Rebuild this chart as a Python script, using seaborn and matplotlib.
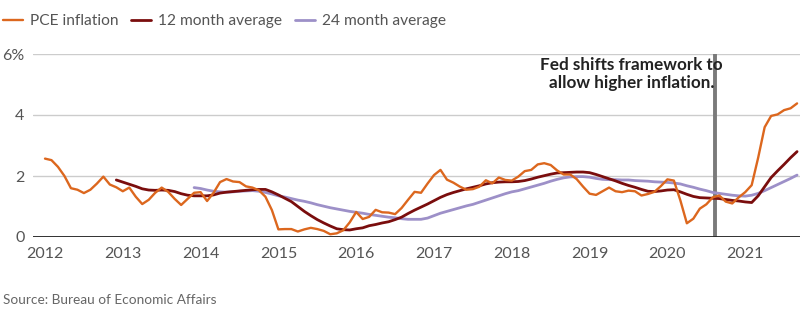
import numpy as np
import pandas as pd
import matplotlib
matplotlib.use("Agg")
import matplotlib.pyplot as plt
import seaborn as sns

# ---- data (monthly, Jan 2012 .. Sep 2021) ----
start_year = 2012
pce = [
    2.57, 2.52, 2.30, 2.00, 1.60, 1.55, 1.44, 1.55, 1.75, 1.98, 1.72, 1.63,
    1.50, 1.62, 1.32, 1.08, 1.22, 1.45, 1.62, 1.48, 1.25, 1.05, 1.25, 1.45,
    1.47, 1.18, 1.45, 1.80, 1.90, 1.82, 1.80, 1.66, 1.62, 1.53, 1.32, 0.88,
    0.25, 0.26, 0.26, 0.18, 0.25, 0.30, 0.26, 0.20, 0.09, 0.12, 0.22, 0.48,
    0.82, 0.59, 0.66, 0.89, 0.81, 0.80, 0.75, 0.95, 1.22, 1.48, 1.45, 1.75,
    2.03, 2.20, 1.88, 1.78, 1.65, 1.55, 1.57, 1.65, 1.86, 1.76, 1.95, 1.87,
    1.85, 1.98, 2.16, 2.20, 2.38, 2.42, 2.36, 2.18, 2.05, 2.05, 1.90, 1.65,
    1.42, 1.38, 1.50, 1.62, 1.50, 1.47, 1.52, 1.50, 1.36, 1.41, 1.48, 1.67,
    1.89, 1.85, 1.20, 0.45, 0.60, 0.93, 1.07, 1.30, 1.36, 1.16, 1.10, 1.30,
    1.47, 1.70, 2.60, 3.60, 3.97, 4.02, 4.16, 4.22, 4.38,
]
# 12 month average starts Dec 2012
avg12_start = 11
avg12 = [
    1.87,
    1.80, 1.73, 1.66, 1.58, 1.54, 1.53, 1.54, 1.53, 1.49, 1.42, 1.37, 1.35,
    1.35, 1.35, 1.38, 1.44, 1.47, 1.49, 1.51, 1.53, 1.55, 1.56, 1.56, 1.48,
    1.38, 1.27, 1.16, 1.00, 0.84, 0.70, 0.57, 0.46, 0.36, 0.27, 0.24, 0.23,
    0.27, 0.30, 0.37, 0.41, 0.46, 0.50, 0.57, 0.65, 0.77, 0.88, 0.98, 1.08,
    1.19, 1.30, 1.39, 1.46, 1.52, 1.58, 1.63, 1.68, 1.74, 1.78, 1.80, 1.81,
    1.81, 1.82, 1.85, 1.90, 1.96, 2.01, 2.06, 2.10, 2.11, 2.12, 2.13, 2.13,
    2.11, 2.05, 1.98, 1.91, 1.84, 1.76, 1.69, 1.63, 1.56, 1.50, 1.49, 1.51,
    1.54, 1.55, 1.48, 1.40, 1.33, 1.29, 1.28, 1.27, 1.26, 1.23, 1.20, 1.18,
    1.15, 1.13, 1.35, 1.65, 1.95, 2.17, 2.38, 2.60, 2.80,
]
# 24 month average starts Dec 2013
avg24_start = 23
avg24 = [
    1.62,
    1.59, 1.54, 1.50, 1.48, 1.47, 1.48, 1.50, 1.51, 1.52, 1.50, 1.46, 1.41,
    1.35, 1.31, 1.26, 1.21, 1.17, 1.12, 1.06, 1.01, 0.96, 0.92, 0.88, 0.84,
    0.81, 0.78, 0.74, 0.71, 0.68, 0.65, 0.63, 0.60, 0.58, 0.58, 0.58, 0.62,
    0.70, 0.78, 0.84, 0.90, 0.96, 1.02, 1.07, 1.14, 1.21, 1.28, 1.35, 1.42,
    1.48, 1.52, 1.58, 1.64, 1.70, 1.76, 1.83, 1.89, 1.94, 1.97, 1.98, 1.98,
    1.96, 1.92, 1.89, 1.88, 1.88, 1.87, 1.87, 1.85, 1.84, 1.83, 1.81, 1.80,
    1.79, 1.77, 1.74, 1.68, 1.63, 1.57, 1.52, 1.46, 1.43, 1.40, 1.37, 1.35,
    1.34, 1.37, 1.43, 1.52, 1.62, 1.72, 1.82, 1.92, 2.03,
]
year_ticks = [2012, 2013, 2014, 2015, 2016, 2017, 2018, 2019, 2020, 2021]
y_ticks = [0, 2, 4, 6]
y_tick_labels = ["0", "2", "4", "6%"]
series_names = ["PCE inflation", "12 month average", "24 month average"]
event_date = 2020.61
event_text = "Fed shifts framework to\nallow higher inflation."
source_text = "Source: Bureau of Economic Affairs"

# ---- build frames ----
def frame(vals, offset):
    idx = np.arange(offset, offset + len(vals))
    return pd.DataFrame({"date": start_year + idx / 12.0, "value": vals})

df_pce = frame(pce, 0)
df_12 = frame(avg12, avg12_start)
df_24 = frame(avg24, avg24_start)

sns.set_theme(style="white")
plt.rcParams["font.family"] = ["Lato", "DejaVu Sans"]

W, H = 809, 324
fig = plt.figure(figsize=(W / 100, H / 100), dpi=100)
ax = fig.add_axes([33 / W, 1 - 237 / H, (800 - 33) / W, (237 - 54) / H])

c_pce = "#dc671e"
c_12 = "#7a0d0d"
c_24 = "#9d90c8"

ax.axvline(event_date, color="#7a7a7a", lw=2.8, zorder=1)
sns.lineplot(data=df_24, x="date", y="value", ax=ax, color=c_24, lw=2.0, label=series_names[2], zorder=3)
sns.lineplot(data=df_12, x="date", y="value", ax=ax, color=c_12, lw=2.0, label=series_names[1], zorder=4)
sns.lineplot(data=df_pce, x="date", y="value", ax=ax, color=c_pce, lw=1.7, label=series_names[0], zorder=5)

ax.set_xlim(2012 - 12 / 77.8, 2012 + (800 - 45) / 77.8)
ax.set_ylim(0, 6)
ax.set_yticks(y_ticks)
ax.set_yticklabels(y_tick_labels)
ax.set_xticks(year_ticks)
ax.set_xticklabels([str(y) for y in year_ticks])
ax.set_xlabel("")
ax.set_ylabel("")
for s in ["top", "right", "left", "bottom"]:
    ax.spines[s].set_visible(False)
ax.grid(axis="y", color="#cccccc", lw=1.0, zorder=0)
ax.grid(axis="x", visible=False)
ax.axhline(0, color="#222222", lw=1.3, zorder=2)
ax.tick_params(axis="both", length=0, labelsize=11.5, labelcolor="#555555")
ax.tick_params(axis="y", pad=6)
ax.tick_params(axis="x", pad=7)

ax.text(2019.54, 5.34, event_text, ha="center", va="center", fontsize=12.3,
        fontweight="bold", color="#222222", linespacing=1.2, zorder=6)

# legend
handles, labels = ax.get_legend_handles_labels()
order = [labels.index(n) for n in series_names]
ax.get_legend().remove()
fig.legend([handles[i] for i in order], [labels[i] for i in order],
           loc="upper left", bbox_to_anchor=(3 / W, 1 - 14 / H), ncol=3,
           frameon=False, fontsize=11.2, handlelength=1.3, handletextpad=0.45,
           columnspacing=0.8, borderaxespad=0, borderpad=0,
           labelcolor="#555555")

fig.text(3 / W, 1 - 300 / H, source_text, ha="left", va="center",
         fontsize=9.8, color="#666666")

fig.savefig("out.png", dpi=100)
